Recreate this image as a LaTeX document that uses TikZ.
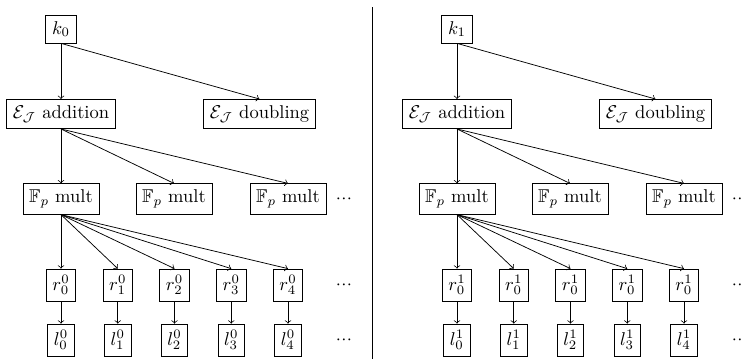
\documentclass[tikz,border=0pt]{standalone}
\usepackage{amsmath,amssymb}
\begin{document}
\begin{tikzpicture}[x=0.54pt,y=-0.54pt,
  box/.style={draw,inner sep=0.333em},
  arr/.style={->},
  dotsnode/.style={inner sep=0pt}]
\useasboundingbox (0,0) rectangle (743,358);
\newcommand{\mydots}{${\cdot}\kern0.2pt{\cdot}\kern0.2pt{\cdot}$}
\foreach \p/\dx in {0/0,1/396}{
  \begin{scope}[shift={(\dx,0)}]
    \node[box] (k\p) at (61,29) {$k_{\p}$};
    \node[box] (add\p) at (61,114) {$\mathcal{E}_{\mathcal{J}}$ addition};
    \node[box] (dbl\p) at (259.5,114) {$\mathcal{E}_{\mathcal{J}}$ doubling};
    \node[box] (ma\p) at (61,199) {$\mathbb{F}_p$ mult};
    \node[box] (mb\p) at (174,199) {$\mathbb{F}_p$ mult};
    \node[box] (mc\p) at (288,199) {$\mathbb{F}_p$ mult};
    \node[dotsnode] (md\p) at (344,199) {\mydots};
    \node[dotsnode] (rd\p) at (344,285) {\mydots};
    \node[dotsnode] (ld\p) at (344,340) {\mydots};
    \draw[arr] (k\p.south) -- (add\p.north);
    \draw[arr] (k\p.south) -- (dbl\p.north);
    \draw[arr] (add\p.south) -- (ma\p.north);
    \draw[arr] (add\p.south) -- (mb\p.north);
    \draw[arr] (add\p.south) -- (mc\p.north);
    \foreach \i in {0,...,4}{
      \pgfmathtruncatemacro\sub{(1-\p)*\i}
      \node[box] (r\p-\i) at ({61+56.75*\i},285) {$r^{\p}_{\sub}$};
      \node[box] (l\p-\i) at ({61+56.75*\i},340) {$l^{\p}_{\i}$};
      \draw[arr] (ma\p.south) -- (r\p-\i.north);
      \draw[arr] (r\p-\i.south) -- (l\p-\i.north);
    }
  \end{scope}
}
\coordinate (dtop) at (372.3,7);
\coordinate (dbot) at (372.3,360);
\draw (dtop) -- (dbot);
\end{tikzpicture}
\end{document}
